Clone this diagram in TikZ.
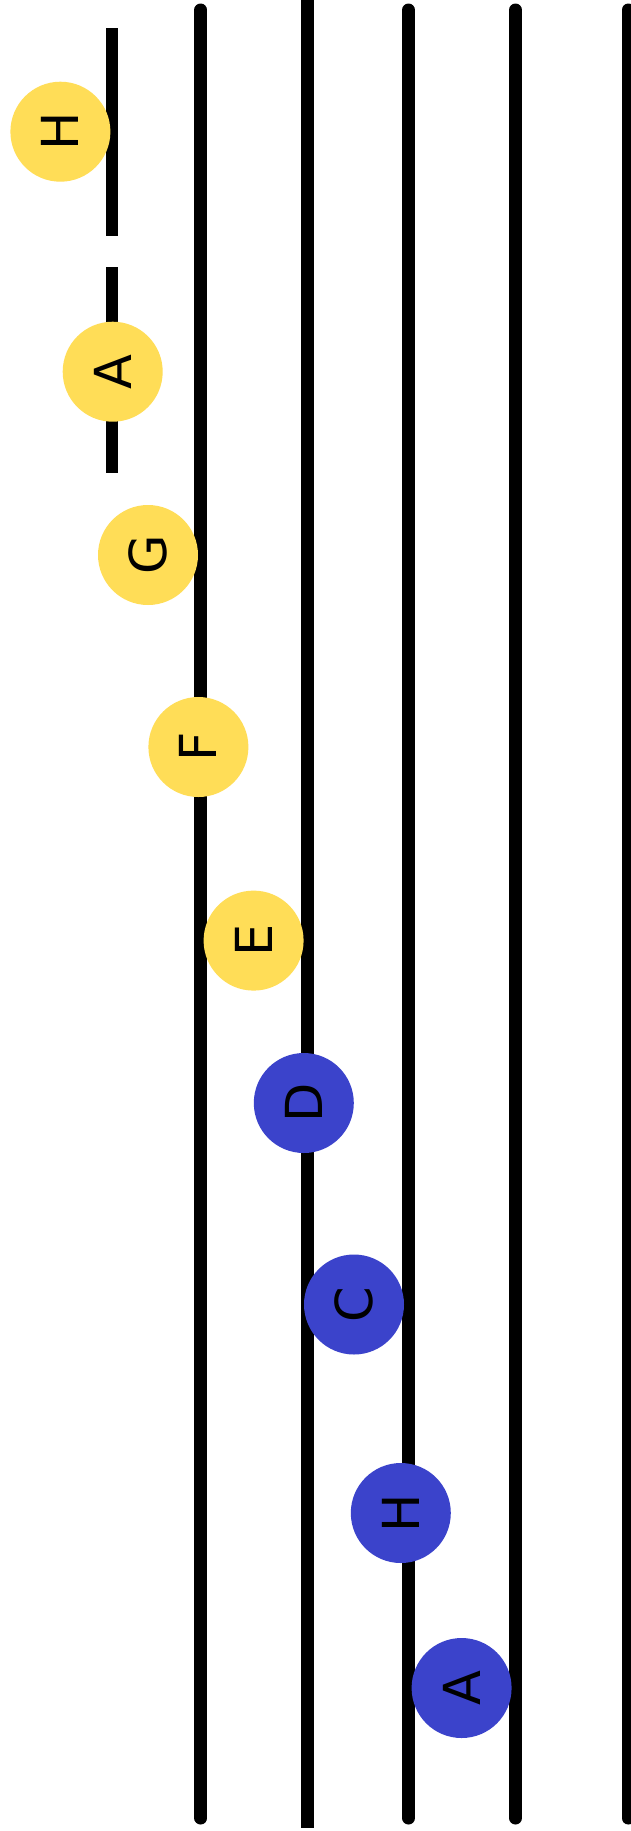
\documentclass[tikz,border=0pt]{standalone}
\usepackage{fontspec}
\setmainfont{DejaVu Sans}
\definecolor{noteY}{RGB}{255,221,87}
\definecolor{noteB}{RGB}{59,67,203}
\begin{document}
\begin{tikzpicture}[x=1pt,y=-1pt,
  staffline/.style={line width=13pt,line cap=round},
  ledger/.style={line width=12pt,line cap=butt},
  note/.style={circle,minimum size=100pt,inner sep=0pt,
    font=\fontsize{51}{51}\selectfont,rotate=90,text=black},
  ynote/.style={note,fill=noteY},
  bnote/.style={note,fill=noteB}]
\useasboundingbox (0,0) rectangle (631,1831);
\fill[white] (0,0) rectangle (631,1831);
% staff lines
\draw[staffline] (200.8,10) -- (200.8,1818);
\draw[staffline,line cap=butt] (307.4,0) -- (307.4,1828);
\draw[staffline] (408.5,10) -- (408.5,1818);
\draw[staffline] (515.5,10) -- (515.5,1818);
\draw[staffline] (628,10) -- (628,1818);
% ledger lines
\draw[ledger] (112,28) -- (112,236);
\draw[ledger] (112,267) -- (112,473);
% notes
\node[ynote] (h1) at (60.4,131.7) {H};
\node[ynote] (a1) at (112.7,371.7) {A};
\node[ynote] (g) at (148,555) {G};
\node[ynote] (f) at (198.4,747) {F};
\node[ynote] (e) at (253.6,940.6) {E};
\node[bnote] (d) at (303.8,1103) {D};
\node[bnote] (c) at (354,1304.5) {C};
\node[bnote] (h2) at (400.8,1513) {H};
\node[bnote] (a2) at (461.6,1688) {A};
\end{tikzpicture}
\end{document}
